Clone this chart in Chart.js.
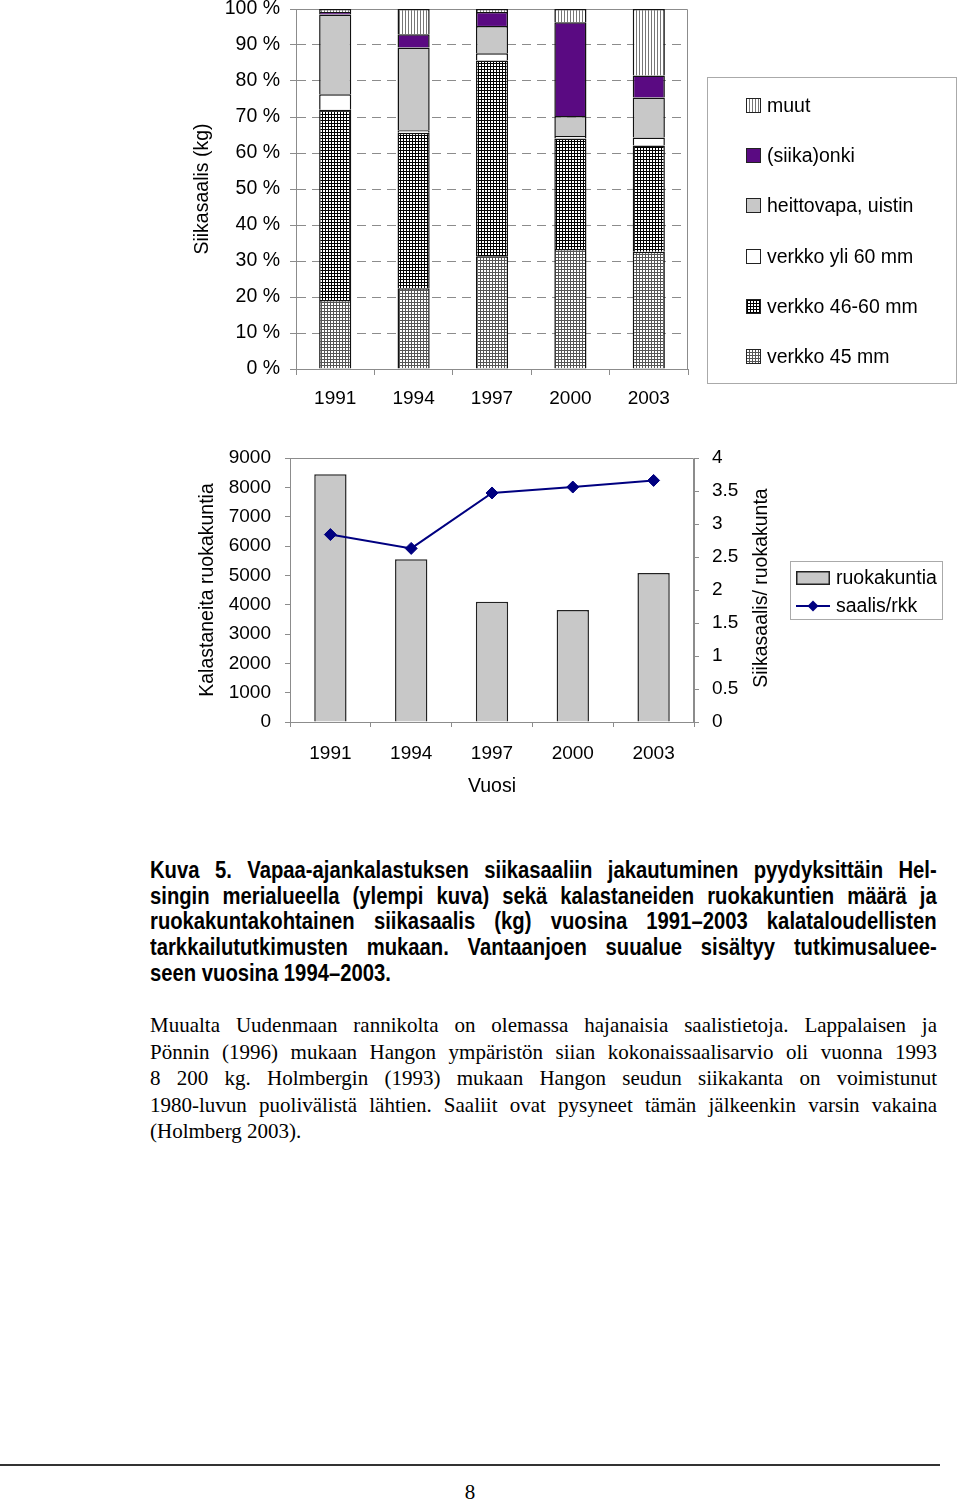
<!DOCTYPE html>
<html>
<head>
<meta charset="utf-8">
<script src="https://cdn.jsdelivr.net/npm/chart.js@4.4.1/dist/chart.umd.min.js"></script>
<style>
  body { margin: 0; background: #fff; width: 960px; height: 1501px; position: relative; overflow: hidden; }
  canvas.chart { position: absolute; left: 0; }
  .legend { position: absolute; border: 1px solid #aaa; background: #fff; font-family: "Liberation Sans", Arial, sans-serif; font-size: 19.5px; color: #000; }
  .legend .item { position: absolute; display: flex; align-items: center; white-space: nowrap; }
  .legend canvas { display: block; }
  .txt { position: absolute; left: 150px; width: 787px; }
  .txt div { text-align: justify; text-align-last: justify; white-space: nowrap; }
  .txt div.last { text-align-last: left; }
  .cap { top: 858px; width: 894px; transform: scaleX(0.88); transform-origin: 0 0;
         font-family: "Liberation Sans", Arial, sans-serif; font-weight: bold; font-size: 23px; line-height: 25.7px; }
  .par { top: 1012px; font-family: "Liberation Serif", "Times New Roman", serif; font-size: 21px; line-height: 26.6px; }
  .rule { position: absolute; left: 0; top: 1464px; width: 940px; height: 2px; background: #333; }
  .pno { position: absolute; left: 0; width: 940px; top: 1480px; text-align: center; font-family: "Liberation Serif", serif; font-size: 21px; }
</style>
</head>
<body>
<canvas id="c1" class="chart" width="700" height="440" style="top:-19px"></canvas>
<div id="leg1" class="legend" style="left:707px; top:77px; width:248px; height:305px;"></div>
<canvas id="c2" class="chart" width="960" height="400" style="top:421px"></canvas>
<div id="leg2" class="legend" style="left:790px; top:561px; width:151px; height:57px;"></div>

<div class="txt cap">
  <div>Kuva 5. Vapaa-ajankalastuksen siikasaaliin jakautuminen pyydyksittäin Hel-</div>
  <div>singin merialueella (ylempi kuva) sekä kalastaneiden ruokakuntien määrä ja</div>
  <div>ruokakuntakohtainen siikasaalis (kg) vuosina 1991–2003 kalataloudellisten</div>
  <div>tarkkailututkimusten mukaan. Vantaanjoen suualue sisältyy tutkimusaluee-</div>
  <div class="last">seen vuosina 1994–2003.</div>
</div>
<div class="txt par">
  <div>Muualta Uudenmaan rannikolta on olemassa hajanaisia saalistietoja. Lappalaisen ja</div>
  <div>Pönnin (1996) mukaan Hangon ympäristön siian kokonaissaalisarvio oli vuonna 1993</div>
  <div>8 200 kg. Holmbergin (1993) mukaan Hangon seudun siikakanta on voimistunut</div>
  <div>1980-luvun puolivälistä lähtien. Saaliit ovat pysyneet tämän jälkeenkin varsin vakaina</div>
  <div class="last">(Holmberg 2003).</div>
</div>
<div class="rule"></div>
<div class="pno">8</div>

<script>
// --- data ---
const years = ['1991', '1994', '1997', '2000', '2003'];

// upper chart: share of whitefish catch by gear, %
const verkko45   = [19.2, 22.4, 31.3, 33.3, 32.6];
const verkko4660 = [52.8, 43.2, 54.4, 30.7, 29.5];
const verkkoYli60 = [4.3, 0.7, 2.0, 0.7, 2.2];
const heittovapa = [22.2, 23.0, 7.6, 5.6, 11.1];
const onki       = [0.7, 3.7, 3.9, 26.0, 6.1];
const muut       = [0.8, 7.0, 0.8, 3.7, 18.5];

// lower chart
const ruokakuntia = [8450, 5550, 4100, 3820, 5080];
const saalisRkk   = [2.84, 2.63, 3.47, 3.56, 3.66];

const FONT = '"Liberation Sans", Arial, sans-serif';
const axisGray = '#8c8c8c';

// fill patterns like the old excel hatchings
function tile(size, draw) {
  const c = document.createElement('canvas');
  c.width = size; c.height = size;
  const g = c.getContext('2d');
  g.fillStyle = '#fff';
  g.fillRect(0, 0, size, size);
  draw(g);
  return document.getElementById('c1').getContext('2d').createPattern(c, 'repeat');
}
const patGrid = tile(3, g => {            // verkko 45 mm: fine grid
  g.fillStyle = '#555';
  g.fillRect(0, 0, 3, 1);
  g.fillRect(0, 0, 1, 3);
});
const patCross = tile(3, g => {           // verkko 46-60 mm: black crosses
  g.fillStyle = '#000';
  g.fillRect(1, 0, 1, 3);
  g.fillRect(0, 1, 3, 1);
});
const patStripes = tile(3, g => {         // muut: vertical stripes
  g.fillStyle = '#777';
  g.fillRect(0, 0, 1, 3);
});

const frame = {
  id: 'frame',
  beforeDatasetsDraw(chart) {
    const { ctx, chartArea: a } = chart;
    ctx.save();
    ctx.strokeStyle = axisGray;
    ctx.lineWidth = 1;
    ctx.beginPath();
    ctx.moveTo(a.left, a.top + 0.5);
    ctx.lineTo(a.right - 0.5, a.top + 0.5);
    ctx.lineTo(a.right - 0.5, a.bottom);
    ctx.stroke();
    ctx.restore();
  }
};

Chart.defaults.font.family = FONT;
Chart.defaults.color = '#000';

const chart1 = new Chart(document.getElementById('c1'), {
  type: 'bar',
  data: {
    labels: years,
    datasets: [
      { label: 'verkko 45 mm', data: verkko45, backgroundColor: patGrid },
      { label: 'verkko 46-60 mm', data: verkko4660, backgroundColor: patCross },
      { label: 'verkko yli 60 mm', data: verkkoYli60, backgroundColor: '#ffffff' },
      { label: 'heittovapa, uistin', data: heittovapa, backgroundColor: '#c8c8c8' },
      { label: '(siika)onki', data: onki, backgroundColor: '#5a0a82' },
      { label: 'muut', data: muut, backgroundColor: patStripes }
    ]
  },
  options: {
    responsive: false,
    animation: false,
    layout: { padding: { top: 28, left: 185, right: 12, bottom: 0 } },
    datasets: { bar: { barPercentage: 0.41, categoryPercentage: 1, borderColor: '#111', borderWidth: 1.5 } },
    plugins: { legend: { display: false }, tooltip: { enabled: false } },
    scales: {
      x: {
        stacked: true,
        offset: true,
        grid: { offset: true, drawOnChartArea: false, tickLength: 6, tickColor: axisGray },
        border: { color: axisGray },
        ticks: { font: { size: 19 }, padding: 12 },
        afterFit(s) { s.height = 52; }
      },
      y: {
        stacked: true,
        min: 0, max: 100,
        ticks: { stepSize: 10, font: { size: 19.5 }, padding: 10, callback: v => v + ' %' },
        grid: {
          color: c => (c.tick && (c.tick.value === 0 || c.tick.value === 100)) ? 'rgba(0,0,0,0)' : axisGray,
          tickColor: axisGray, tickLength: 6
        },
        border: { color: axisGray, dash: [9, 6] },
        title: { display: true, text: 'Siikasaalis (kg)', font: { size: 19.5 }, padding: { top: 6, bottom: 0 } },
        afterFit(s) { s.width = 111; }
      }
    }
  },
  plugins: [frame]
});

const rightTitle = {
  id: 'rightTitle',
  afterDraw(chart) {
    const s = chart.scales.y1;
    const ctx = chart.ctx;
    ctx.save();
    ctx.translate(s.right - 12, (s.top + s.bottom) / 2 - 2);
    ctx.rotate(-Math.PI / 2);
    ctx.font = '19.5px ' + FONT;
    ctx.fillStyle = '#000';
    ctx.textAlign = 'center';
    ctx.textBaseline = 'middle';
    ctx.fillText('Siikasaalis/ ruokakunta', 0, 0);
    ctx.restore();
  }
};

const chart2 = new Chart(document.getElementById('c2'), {
  type: 'bar',
  data: {
    labels: years,
    datasets: [
      {
        type: 'line', label: 'saalis/rkk', data: saalisRkk, yAxisID: 'y1', order: 1,
        borderColor: '#000080', backgroundColor: '#000080', borderWidth: 2,
        pointStyle: 'rectRot', pointRadius: 6, pointBorderWidth: 1
      },
      {
        type: 'bar', label: 'ruokakuntia', data: ruokakuntia, yAxisID: 'y', order: 2,
        backgroundColor: '#c8c8c8', borderColor: '#222', borderWidth: 1.5,
        barPercentage: 0.4, categoryPercentage: 1
      }
    ]
  },
  options: {
    responsive: false,
    animation: false,
    layout: { padding: { top: 37, left: 185, right: 186, bottom: 0 } },
    plugins: { legend: { display: false }, tooltip: { enabled: false } },
    scales: {
      x: {
        offset: true,
        grid: { offset: true, drawOnChartArea: false, tickLength: 5, tickColor: axisGray },
        border: { color: axisGray },
        ticks: { font: { size: 19 }, padding: 15 },
        title: { display: true, text: 'Vuosi', font: { size: 19.5 }, padding: { top: 0, bottom: 23 } },
        afterFit(s) { s.height = 99; }
      },
      y: {
        position: 'left',
        min: 0, max: 9000,
        ticks: { stepSize: 1000, font: { size: 19 }, padding: 14, callback: v => String(v) },
        grid: { drawOnChartArea: false, tickLength: 5, tickColor: axisGray },
        border: { color: axisGray },
        title: { display: true, text: 'Kalastaneita ruokakuntia', font: { size: 19.5 }, padding: { top: 11, bottom: 0 } },
        afterFit(s) { s.width = 105; }
      },
      y1: {
        position: 'right',
        min: 0, max: 4,
        ticks: { stepSize: 0.5, font: { size: 19 }, padding: 13, callback: v => String(v) },
        grid: { drawOnChartArea: false, tickLength: 5, tickColor: axisGray },
        border: { color: axisGray },
        afterFit(s) { s.width = 80; }
      }
    }
  },
  plugins: [frame, rightTitle]
});

// html legends built from the datasets
function swatch(w, h, paint) {
  const c = document.createElement('canvas');
  c.width = w; c.height = h;
  paint(c.getContext('2d'));
  return c;
}

const leg1 = document.getElementById('leg1');
chart1.data.datasets.slice().reverse().forEach((ds, i) => {
  const it = document.createElement('div');
  it.className = 'item';
  it.style.left = '38px';
  it.style.top = (16 + i * 50.2) + 'px';
  const sw = swatch(15, 15, g => {
    g.fillStyle = ds.backgroundColor;
    g.fillRect(0, 0, 15, 15);
    g.strokeStyle = '#222';
    g.lineWidth = 1;
    g.strokeRect(0.5, 0.5, 14, 14);
  });
  sw.style.marginRight = '6px';
  it.appendChild(sw);
  it.appendChild(document.createTextNode(ds.label));
  leg1.appendChild(it);
});

const leg2 = document.getElementById('leg2');
[chart2.data.datasets[1], chart2.data.datasets[0]].forEach((ds, i) => {
  const it = document.createElement('div');
  it.className = 'item';
  it.style.left = '5px';
  it.style.top = (4 + i * 28) + 'px';
  let sw;
  if (ds.type === 'bar') {
    sw = swatch(34, 14, g => {
      g.fillStyle = ds.backgroundColor;
      g.fillRect(0, 0, 34, 14);
      g.strokeStyle = '#222';
      g.lineWidth = 1.5;
      g.strokeRect(0.75, 0.75, 32.5, 12.5);
    });
  } else {
    sw = swatch(34, 14, g => {
      g.strokeStyle = ds.borderColor;
      g.lineWidth = 2;
      g.beginPath(); g.moveTo(0, 7); g.lineTo(34, 7); g.stroke();
      g.fillStyle = ds.backgroundColor;
      g.beginPath(); g.moveTo(17, 1.5); g.lineTo(22.5, 7); g.lineTo(17, 12.5); g.lineTo(11.5, 7); g.closePath(); g.fill();
    });
  }
  sw.style.marginRight = '6px';
  it.appendChild(sw);
  it.appendChild(document.createTextNode(ds.label));
  leg2.appendChild(it);
});
</script>
</body>
</html>
